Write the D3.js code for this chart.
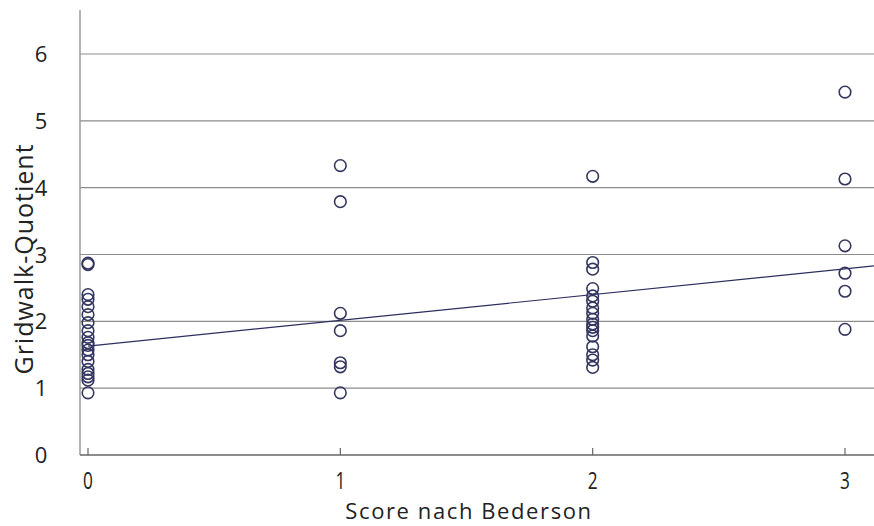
<!DOCTYPE html>
<html>
<head>
<meta charset="utf-8">
<script src="https://cdn.jsdelivr.net/npm/d3@7"></script>
<style>
  body { margin: 0; background: #fff; }
  text { font-family: "Open Sans", sans-serif; fill: #222; }
</style>
</head>
<body>
<script>
// Bederson score columns and the Gridwalk values
var score0 = [2.87, 2.85, 2.40, 2.33, 2.22, 2.10, 1.98, 1.86, 1.76, 1.68, 1.64, 1.57, 1.50, 1.40, 1.28, 1.22, 1.17, 1.12, 0.93];
var score1 = [4.33, 3.79, 2.12, 1.86, 1.38, 1.32, 0.93];
var score2 = [4.17, 2.88, 2.78, 2.49, 2.38, 2.30, 2.20, 2.12, 2.03, 1.96, 1.91, 1.86, 1.78, 1.62, 1.50, 1.42, 1.31];
var score3 = [5.43, 4.13, 3.13, 2.72, 2.45, 1.88];

var xTicks = [0, 1, 2, 3];
var yTicks = [0, 1, 2, 3, 4, 5, 6];

// regression line (intercept, slope)
var regIntercept = 1.63;
var regSlope = 0.385;

var svgWidth = 874;
var svgHeight = 526;

var svg = d3.select("body")
  .append("svg")
  .attr("width", svgWidth)
  .attr("height", svgHeight);

var axisX = 80;
var axisY = 455;

var xScale = d3.scaleLinear()
  .domain([0, 3])
  .range([88, 845]);

var yScale = d3.scaleLinear()
  .domain([0, 6])
  .range([455, 54]);

// gridlines
svg.append("g")
  .selectAll("line")
  .data(yTicks.filter(d => d > 0))
  .enter()
  .append("line")
  .attr("x1", axisX)
  .attr("x2", svgWidth)
  .attr("y1", d => yScale(d))
  .attr("y2", d => yScale(d))
  .attr("stroke", "#8c8c8c")
  .attr("stroke-width", 1.2);

// axes
svg.append("line")
  .attr("x1", axisX).attr("x2", axisX)
  .attr("y1", 10).attr("y2", axisY)
  .attr("stroke", "#9a9a9a")
  .attr("stroke-width", 1.5);

svg.append("line")
  .attr("x1", axisX).attr("x2", svgWidth)
  .attr("y1", axisY).attr("y2", axisY)
  .attr("stroke", "#666")
  .attr("stroke-width", 1.3);

// x ticks
svg.append("g")
  .selectAll("line")
  .data(xTicks)
  .enter()
  .append("line")
  .attr("x1", d => xScale(d))
  .attr("x2", d => xScale(d))
  .attr("y1", axisY)
  .attr("y2", axisY - 7)
  .attr("stroke", "#666")
  .attr("stroke-width", 1.2);

// x tick labels (narrow)
svg.append("g")
  .selectAll("text")
  .data(xTicks)
  .enter()
  .append("text")
  .attr("transform", d => `translate(${xScale(d)}, 489) scale(0.75, 1)`)
  .attr("text-anchor", "middle")
  .attr("font-size", "23px")
  .text(d => d);

// y tick labels
svg.append("g")
  .selectAll("text")
  .data(yTicks)
  .enter()
  .append("text")
  .attr("x", 41)
  .attr("y", d => yScale(d) + 8)
  .attr("text-anchor", "middle")
  .attr("font-size", "22px")
  .text(d => d);

// axis titles
svg.append("text")
  .attr("x", 469)
  .attr("y", 519)
  .attr("text-anchor", "middle")
  .attr("font-size", "22px")
  .attr("letter-spacing", "1.6px")
  .text("Score nach Bederson");

svg.append("text")
  .attr("transform", "translate(33, 259) rotate(-90)")
  .attr("text-anchor", "middle")
  .attr("font-size", "25px")
  .attr("letter-spacing", "1px")
  .text("Gridwalk-Quotient");

// regression line
var xEnd = xScale.invert(svgWidth);
svg.append("line")
  .attr("x1", xScale(0))
  .attr("y1", yScale(regIntercept))
  .attr("x2", xScale(xEnd))
  .attr("y2", yScale(regIntercept + regSlope * xEnd))
  .attr("stroke", "#2c2f5e")
  .attr("stroke-width", 1.2);

// points
var points = [];
[score0, score1, score2, score3].forEach(function(vals, i) {
  vals.forEach(function(v) { points.push({ x: i, y: v }); });
});

svg.append("g")
  .selectAll("circle")
  .data(points)
  .enter()
  .append("circle")
  .attr("cx", d => xScale(d.x))
  .attr("cy", d => yScale(d.y))
  .attr("r", 5.8)
  .attr("fill", "none")
  .attr("stroke", "#33365f")
  .attr("stroke-width", 1.6);
</script>
</body>
</html>
